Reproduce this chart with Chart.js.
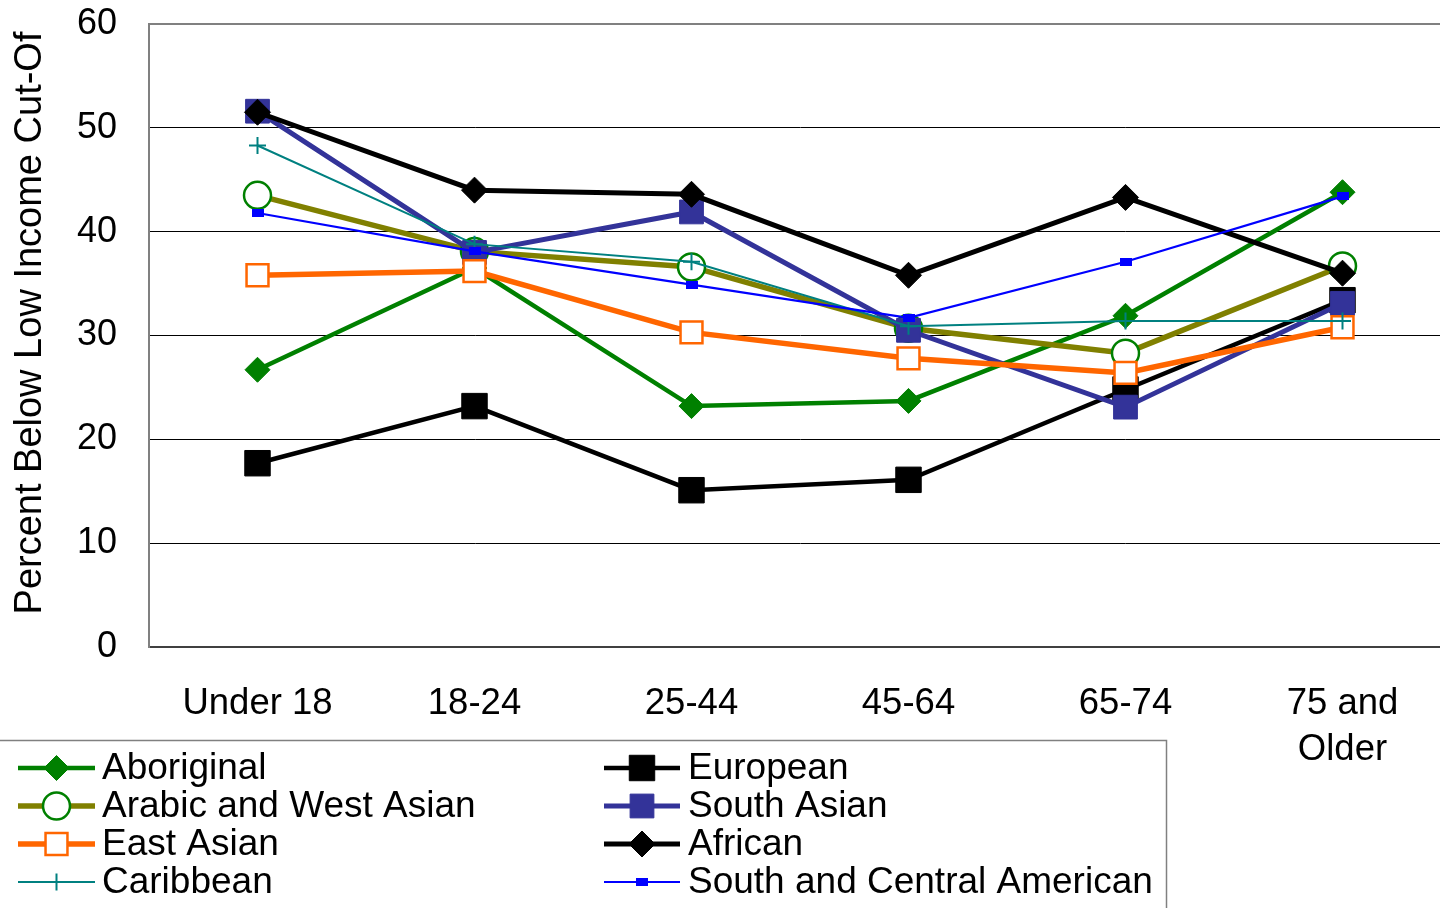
<!DOCTYPE html>
<html>
<head>
<meta charset="utf-8">
<script src="https://cdn.jsdelivr.net/npm/chart.js@4/dist/chart.umd.min.js"></script>
<style>
  html, body { margin: 0; padding: 0; background: #fff; overflow: hidden; width: 1440px; height: 908px; }
  #wrap { position: absolute; left: 0; top: 0; width: 1470px; height: 908px; }
</style>
</head>
<body>
<div id="wrap"><canvas id="c" width="1470" height="908"></canvas></div>
<script>
// Age groups along the horizontal axis
const categories = ['Under 18', '18-24', '25-44', '45-64', '65-74', ['75 and', 'Older']];

// Percent below the low income cut-off, by origin group
const aboriginal   = [26.7, 36.5, 23.2, 23.7, 31.9, 43.8];
const european     = [17.7, 23.2, 15.1, 16.1, 24.8, 33.4];
const arabicWest   = [43.5, 38.1, 36.6, 30.7, 28.3, 36.7];
const southAsian   = [51.6, 38.0, 41.9, 30.5, 23.1, 33.1];
const eastAsian    = [35.8, 36.2, 30.3, 27.8, 26.4, 30.8];
const african      = [51.5, 44.0, 43.6, 35.8, 43.3, 36.0];
const caribbean    = [48.3, 38.8, 37.1, 30.9, 31.4, 31.4];
const southCentral = [41.8, 38.1, 34.9, 31.7, 37.1, 43.4];

const yTicks = [0, 10, 20, 30, 40, 50, 60];
const yTitle = 'Percent Below Low Income Cut-Of';

const FONT = '"Liberation Sans", Arial, Helvetica, sans-serif';

// small flat rectangle used as the South and Central American marker
function flatRect(w, h, color) {
  const c = document.createElement('canvas');
  c.width = w; c.height = h;
  const g = c.getContext('2d');
  g.fillStyle = color;
  g.fillRect(0, 0, w, h);
  return c;
}
const blueRect = flatRect(12, 8, '#0000FF');

const series = [
  { label: 'Aboriginal', data: aboriginal, line: '#008000', lw: 4.5, style: 'rectRot', r: 12.5, fill: '#008000', stroke: '#008000', bw: 1 },
  { label: 'European', data: european, line: '#000000', lw: 4.5, style: 'rect', r: 18, fill: '#000000', stroke: '#000000', bw: 1 },
  { label: 'Arabic and West Asian', data: arabicWest, line: '#808000', lw: 5.5, style: 'circle', r: 13.5, fill: '#FFFFFF', stroke: '#008000', bw: 2.5 },
  { label: 'South Asian', data: southAsian, line: '#333399', lw: 5, style: 'rect', r: 16.8, fill: '#333399', stroke: '#333399', bw: 1 },
  { label: 'East Asian', data: eastAsian, line: '#FF6600', lw: 5.5, style: 'rect', r: 15.5, fill: '#FFFFFF', stroke: '#FF6600', bw: 2.5 },
  { label: 'African', data: african, line: '#000000', lw: 5, style: 'rectRot', r: 13, fill: '#000000', stroke: '#000000', bw: 1 },
  { label: 'Caribbean', data: caribbean, line: '#008080', lw: 2, style: 'cross', r: 8.5, fill: '#008080', stroke: '#008080', bw: 2 },
  { label: 'South and Central American', data: southCentral, line: '#0000FF', lw: 2.2, style: blueRect, r: 6, fill: '#0000FF', stroke: '#0000FF', bw: 0 }
];

const datasets = series.map((s, i) => ({
  label: s.label,
  data: s.data,
  borderColor: s.line,
  borderWidth: s.lw,
  backgroundColor: s.fill,
  pointStyle: s.style,
  pointRadius: s.r,
  pointHoverRadius: s.r,
  pointBackgroundColor: s.fill,
  pointBorderColor: s.stroke,
  pointBorderWidth: s.bw,
  tension: 0,
  fill: false,
  order: series.length - i   // later series sit on top
}));

// legend markers drawn beside each label
function drawMarker(ctx, s, x, y) {
  ctx.save();
  ctx.fillStyle = s.fill;
  ctx.strokeStyle = s.stroke;
  ctx.lineWidth = s.bw;
  ctx.beginPath();
  if (s.style === 'rectRot') {
    const r = s.r;
    ctx.moveTo(x, y - r); ctx.lineTo(x + r, y); ctx.lineTo(x, y + r); ctx.lineTo(x - r, y); ctx.closePath();
    ctx.fill(); ctx.stroke();
  } else if (s.style === 'rect') {
    const h = s.r * Math.SQRT1_2;
    ctx.rect(x - h, y - h, 2 * h, 2 * h);
    ctx.fill(); if (s.bw) ctx.stroke();
  } else if (s.style === 'circle') {
    ctx.arc(x, y, s.r, 0, Math.PI * 2);
    ctx.fill(); ctx.stroke();
  } else if (s.style === 'cross') {
    ctx.moveTo(x - s.r, y); ctx.lineTo(x + s.r, y);
    ctx.moveTo(x, y - s.r); ctx.lineTo(x, y + s.r);
    ctx.stroke();
  } else {
    ctx.drawImage(s.style, x - s.style.width / 2, y - s.style.height / 2);
  }
  ctx.restore();
}

const decorations = {
  id: 'decorations',
  afterDraw(chart) {
    const ctx = chart.ctx;
    const a = chart.chartArea;
    ctx.save();
    // top edge of the plot frame
    ctx.strokeStyle = '#808080';
    ctx.lineWidth = 2;
    ctx.beginPath();
    ctx.moveTo(a.left, a.top); ctx.lineTo(a.right, a.top);
    ctx.stroke();

    // vertical axis title
    ctx.fillStyle = '#000';
    ctx.font = '38px ' + FONT;
    ctx.textAlign = 'center';
    ctx.textBaseline = 'middle';
    ctx.translate(31, 323);
    ctx.rotate(-Math.PI / 2);
    ctx.fillText(yTitle, 0, 0);
    ctx.restore();

    // legend box
    ctx.save();
    ctx.strokeStyle = '#808080';
    ctx.lineWidth = 1.5;
    ctx.strokeRect(-2, 740.5, 1168.5, 200);
    ctx.font = '37px ' + FONT;
    ctx.fillStyle = '#000';
    ctx.textAlign = 'left';
    ctx.textBaseline = 'alphabetic';
    const cols = [{ x0: 18, x1: 95, tx: 102 }, { x0: 604, x1: 680, tx: 688 }];
    series.forEach((s, i) => {
      const col = cols[i % 2];
      const row = Math.floor(i / 2);
      const yc = 768 + row * 38;
      ctx.strokeStyle = s.line;
      ctx.lineWidth = s.lw;
      ctx.beginPath();
      ctx.moveTo(col.x0, yc); ctx.lineTo(col.x1, yc);
      ctx.stroke();
      drawMarker(ctx, s, (col.x0 + col.x1) / 2, yc);
      ctx.fillStyle = '#000';
      ctx.fillText(s.label, col.tx, yc + 11);
    });
    ctx.restore();
  }
};

function noScalePadding(s) {
  s.paddingLeft = 0; s.paddingRight = 0; s.paddingTop = 0; s.paddingBottom = 0;
}

new Chart(document.getElementById('c'), {
  type: 'line',
  data: { labels: categories, datasets },
  plugins: [decorations],
  options: {
    responsive: false,
    animation: false,
    devicePixelRatio: 1,
    layout: { padding: { top: 24, right: 0, left: 0, bottom: 0 } },
    plugins: { legend: { display: false }, tooltip: { enabled: false }, title: { display: false } },
    scales: {
      x: {
        type: 'category',
        offset: true,
        grid: { display: false, drawTicks: false },
        border: { display: true, color: '#404040', width: 2 },
        ticks: { color: '#000', padding: 34, maxRotation: 0, autoSkip: false, font: { family: FONT, size: 36.5, lineHeight: 46 / 36.5 } },
        afterFit(s) { s.height = 261; noScalePadding(s); }
      },
      y: {
        min: 0,
        max: 60,
        afterBuildTicks(s) { s.ticks = yTicks.map(v => ({ value: v })); },
        grid: {
          drawTicks: false,
          lineWidth: 1,
          color: c => (c.tick && (c.tick.value === 0 || c.tick.value === 60)) ? 'rgba(0,0,0,0)' : '#000'
        },
        border: { display: true, color: '#808080', width: 2 },
        ticks: { color: '#000', padding: 32, font: { family: FONT, size: 36 } },
        afterFit(s) { s.width = 149; noScalePadding(s); }
      }
    }
  }
});
</script>
</body>
</html>
